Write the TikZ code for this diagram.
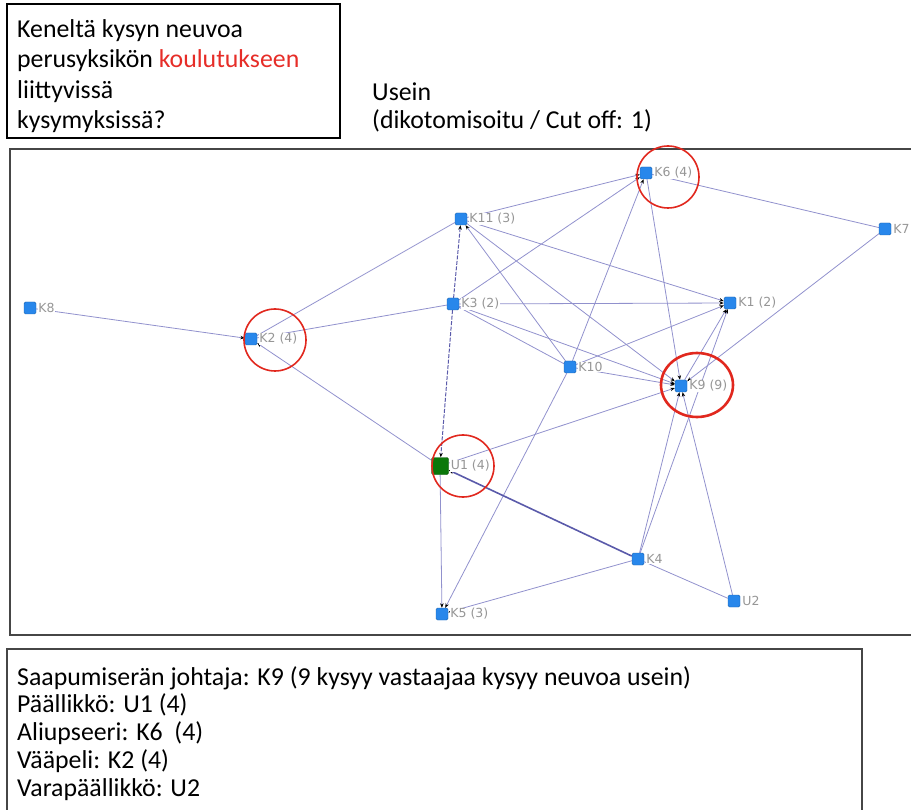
\documentclass[tikz,border=0pt]{standalone}
\usepackage{fontspec}
\setmainfont{Carlito}
\newfontfamily\lblfont{DejaVu Sans}
\usetikzlibrary{arrows.meta,backgrounds}
\definecolor{edgec}{RGB}{145,145,205}
\definecolor{edgedark}{RGB}{90,90,170}
\definecolor{nodeblue}{RGB}{40,135,235}
\definecolor{nodegreen}{RGB}{10,120,10}
\definecolor{circred}{RGB}{225,40,30}
\definecolor{lblgray}{RGB}{150,150,150}
\definecolor{frameg}{RGB}{70,70,70}
\definecolor{kred}{RGB}{230,45,40}
\begin{document}
\begin{tikzpicture}[x=1pt,y=-1pt,
  sq/.style={draw=nodeblue!75!black, fill=nodeblue, minimum size=12pt, inner sep=0pt, rounded corners=1.5pt, line width=0.4pt},
  sqg/.style={sq, fill=nodegreen, draw=nodegreen!70!black, minimum size=17pt},
  lbl/.style={font=\lblfont\fontsize{12.5}{13}\selectfont, text=lblgray, fill=white, inner sep=0.5pt, anchor=west},
  edge/.style={draw=edgec, line width=0.8pt},
  arr/.style={edge, -{Stealth[length=4.5pt,width=3.5pt,black]}},
  darkarr/.style={draw=edgedark, line width=1pt, dash pattern=on 4pt off 1.5pt, -{Stealth[length=4.5pt,width=3.5pt,black]}},
  ring/.style={draw=circred, line width=1.6pt},
  boxline/.style={draw=black, line width=1.2pt},
  frameline/.style={draw=frameg, line width=1.5pt},
  txt/.style={font=\fontsize{25.8}{28}\selectfont, anchor=base west, inner sep=0pt}
]
\useasboundingbox (0,0) rectangle (911,810);
\clip (0,0) rectangle (911,810);

% top box
\draw[boxline] (7,4) rectangle (340,138);
\node[txt] (t1) at (17,38) {Keneltä kysyn neuvoa};
\node[txt] (t2) at (17,68) {perusyksikön \textcolor{kred}{koulutukseen}};
\node[txt] (t3) at (17,99) {liittyvissä};
\node[txt] (t4) at (17,129) {kysymyksissä?};
\node[txt] (u1t) at (372,101) {Usein};
\node[txt] (u2t) at (372,129) {(dikotomisoitu / Cut off: 1)};

% network frame
\draw[frameline] (10,149) rectangle (930,635);

% nodes
\node[sq] (k8) at (30,308) {};
\node[sq] (k2) at (251,339) {};
\node[sq] (k11) at (461,219) {};
\node[sq] (k3) at (453,304) {};
\node[sq] (k6) at (646,173) {};
\node[sq] (k7) at (885,229) {};
\node[sq] (k1) at (730,303) {};
\node[sq] (k10) at (570,367) {};
\node[sq] (k9) at (681,386) {};
\node[sqg] (u1) at (440,466) {};
\node[sq] (k4) at (638,559) {};
\node[sq] (u2) at (734,601) {};
\node[sq] (k5) at (442,614) {};

% labels
\node[lbl] (k8l) at ([xshift=1.5pt]k8.east) {K8};
\node[lbl] (k2l) at ([xshift=1.5pt]k2.east) {K2 (4)};
\node[lbl] (k11l) at ([xshift=1.5pt]k11.east) {K11 (3)};
\node[lbl] (k3l) at ([xshift=1.5pt]k3.east) {K3 (2)};
\node[lbl] (k6l) at ([xshift=1.5pt]k6.east) {K6 (4)};
\node[lbl] (k7l) at ([xshift=1.5pt]k7.east) {K7};
\node[lbl] (k1l) at ([xshift=1.5pt]k1.east) {K1 (2)};
\node[lbl] (k10l) at ([xshift=1.5pt]k10.east) {K10};
\node[lbl] (k9l) at ([xshift=1.5pt]k9.east) {K9 (9)};
\node[lbl] (u1l) at ([xshift=1.5pt]u1.east) {U1 (4)};
\node[lbl] (k4l) at ([xshift=1.5pt]k4.east) {K4};
\node[lbl] (u2l) at ([xshift=1.5pt]u2.east) {U2};
\node[lbl] (k5l) at ([xshift=1.5pt]k5.east) {K5 (3)};

% edges
\begin{pgfonlayer}{background}
\draw[arr] (k8) -- (k2);
\draw[arr] (u1) -- (k2);
\draw[edge] (k2) -- (k11);
\draw[edge] (k2) -- (k3);
\draw[darkarr] (k3) -- (k11);
\draw[darkarr] (k3) -- (u1);
\draw[arr] (k11) -- (k6);
\draw[arr] (k11) -- (k1);
\draw[arr] (k11) -- (k9);
\draw[arr] (k10) -- (k11);
\draw[arr] (k3) -- (k6);
\draw[arr] (k3) -- (k1);
\draw[edge] (k3) -- (k10);
\draw[arr] (k3) -- (k9);
\draw[arr] (k10) -- (k6);
\draw[arr] (k10) -- (k1);
\draw[arr] (k10) -- (k9);
\draw[arr] (k10) -- (k5);
\draw[arr] (k6) -- (k9);
\draw[edge] (k6) -- (k7);
\draw[arr] (k7) -- (k9);
\draw[arr] (k4) -- (k9);
\draw[arr] (k4) -- (k1);
\draw[arr] (k9) -- (k1);
\draw[arr] (u1) -- (k9);
\draw[arr] (u2) -- (k9);
\draw[draw=edgedark, line width=1.6pt, -{Stealth[length=5pt,width=4pt,black]}] (k4) -- (u1);
\draw[arr] (u1) -- (k5);
\draw[arr] (k4) -- (k5);
\draw[edge] (k4) -- (u2);
\end{pgfonlayer}

% highlight rings
\draw[ring] (275,340) circle (31);
\draw[ring] (668,177) circle (31);
\draw[ring] (463,466) circle (31);
\draw[ring, line width=2.6pt] (697,385) ellipse [x radius=36, y radius=32];

% bottom box
\draw[frameline] (7,649) rectangle (862,830);
\node[txt] (b1) at (17,685) {Saapumiserän johtaja: K9 (9 kysyy vastaajaa kysyy neuvoa usein)};
\node[txt] (b2) at (17,712) {Päällikkö: U1 (4)};
\node[txt] (b3) at (17,740) {Aliupseeri: K6~ (4)};
\node[txt] (b4) at (17,768) {Vääpeli: K2 (4)};
\node[txt] (b5) at (17,796) {Varapäällikkö: U2};
\end{tikzpicture}
\end{document}
